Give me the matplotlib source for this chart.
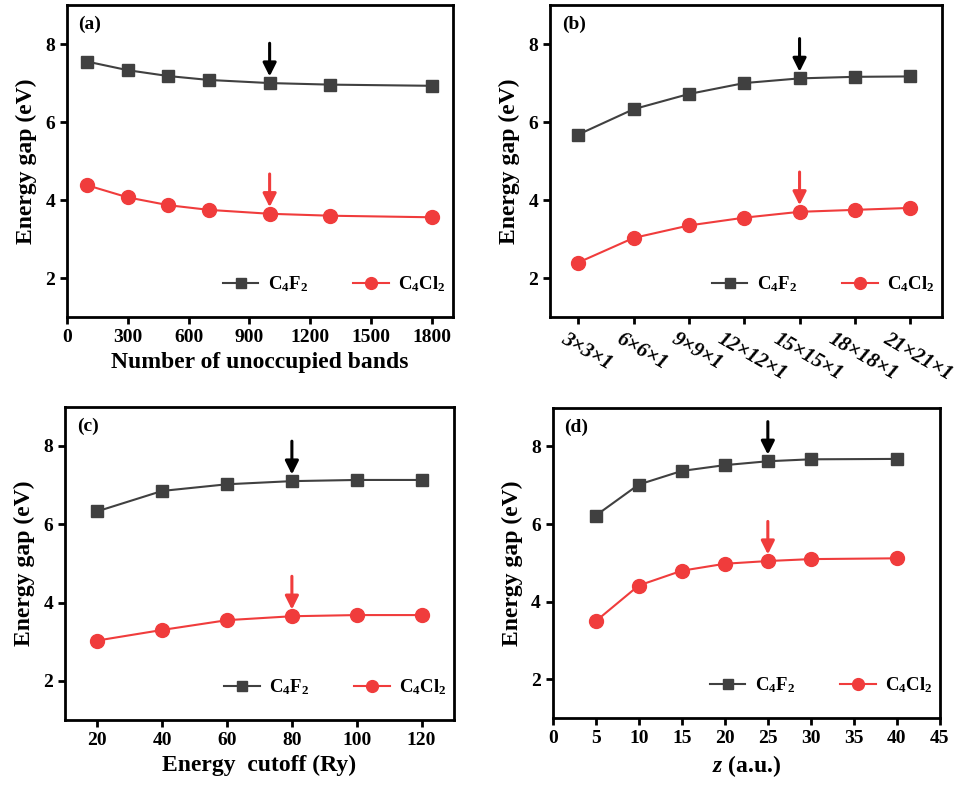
import matplotlib
matplotlib.use('Agg')
import matplotlib.pyplot as plt
import matplotlib.transforms as mtransforms

plt.rcParams['font.family'] = ['Liberation Serif', 'DejaVu Serif']
plt.rcParams['font.weight'] = 'bold'
plt.rcParams['mathtext.fontset'] = 'custom'
plt.rcParams['mathtext.rm'] = 'Liberation Serif:bold'
plt.rcParams['mathtext.bf'] = 'Liberation Serif:bold'
plt.rcParams['mathtext.it'] = 'Liberation Serif:bold:italic'

# données
bands = [100, 300, 500, 700, 1000, 1300, 1800]
bands_f = [7.55, 7.33, 7.18, 7.08, 7.00, 6.96, 6.93]
bands_cl = [4.38, 4.07, 3.87, 3.75, 3.65, 3.60, 3.56]

kgrid = ['3×3×1', '6×6×1', '9×9×1', '12×12×1', '15×15×1', '18×18×1', '21×21×1']
kgrid_f = [5.68, 6.33, 6.72, 7.00, 7.12, 7.16, 7.17]
kgrid_cl = [2.40, 3.03, 3.35, 3.55, 3.70, 3.75, 3.80]

cutoff = [20, 40, 60, 80, 100, 120]
cutoff_f = [6.33, 6.85, 7.02, 7.10, 7.13, 7.13]
cutoff_cl = [3.03, 3.30, 3.55, 3.65, 3.68, 3.68]

vacuum = [5, 10, 15, 20, 25, 30, 40]
vacuum_f = [6.22, 7.02, 7.37, 7.52, 7.62, 7.67, 7.68]
vacuum_cl = [3.50, 4.42, 4.80, 4.98, 5.05, 5.10, 5.12]

# indice du point choisi (flèche)
chosen = [4, 4, 3, 4]

gray = '#404040'
red = '#f03c3c'

fig = plt.figure(figsize=(9.61, 7.87), dpi=100)
positions = [
    [0.0697, 0.597, 0.4017, 0.3966],
    [0.5723, 0.597, 0.4077, 0.3966],
    [0.0676, 0.0851, 0.4048, 0.3981],
    [0.5751, 0.0873, 0.4030, 0.3947],
]
axes = [fig.add_axes(p) for p in positions]

panels = [
    (bands, bands_f, bands_cl, '(a)', 'Number of unoccupied bands'),
    (list(range(len(kgrid))), kgrid_f, kgrid_cl, '(b)', ''),
    (cutoff, cutoff_f, cutoff_cl, '(c)', 'Energy  cutoff (Ry)'),
    (vacuum, vacuum_f, vacuum_cl, '(d)', r'$\mathit{z}$ (a.u.)'),
]

for ax, (x, yf, ycl, tag, xlabel), idx in zip(axes, panels, chosen):
    ax.plot(x, yf, '-s', color=gray, lw=1.5, ms=9, mfc=gray, mec=gray,
            label=r'$\mathrm{C_4F_2}$')
    ax.plot(x, ycl, '-o', color=red, lw=1.5, ms=10, mfc=red, mec=red,
            label=r'$\mathrm{C_4Cl_2}$')
    # flèches
    ax.annotate('', xy=(x[idx], yf[idx] + 0.17), xytext=(x[idx], yf[idx] + 1.02),
                arrowprops=dict(arrowstyle='-|>', color='black', lw=2.2,
                                mutation_scale=20, shrinkA=0, shrinkB=0))
    ax.annotate('', xy=(x[idx], ycl[idx] + 0.17), xytext=(x[idx], ycl[idx] + 1.02),
                arrowprops=dict(arrowstyle='-|>', color=red, lw=2.2,
                                mutation_scale=20, shrinkA=0, shrinkB=0))

    ax.set_ylim(1, 9)
    ax.set_yticks([2, 4, 6, 8])
    ax.set_ylabel('Energy gap (eV)', fontsize=17, fontweight='bold', labelpad=6)
    ax.set_xlabel(xlabel, fontsize=17, fontweight='bold', labelpad=4)
    ax.text(0.03, 0.965, tag, transform=ax.transAxes, fontsize=14,
            fontweight='bold', va='top', ha='left')
    ax.legend(loc='lower right', ncol=2, frameon=False, fontsize=13.5,
              handlelength=1.9, handletextpad=0.5, columnspacing=2.4,
              markerscale=0.85, bbox_to_anchor=(1.025, 0.02))
    for s in ax.spines.values():
        s.set_linewidth(2)
    ax.tick_params(axis='both', direction='out', width=2, length=5,
                   labelsize=14, top=False, right=False)

axes[0].set_xlim(0, 1905)
axes[0].set_xticks([0, 300, 600, 900, 1200, 1500, 1800])

axes[1].set_xlim(-0.51, 6.57)
axes[1].set_xticks(range(len(kgrid)))
axes[1].set_xticklabels(kgrid, rotation=-30, ha='center', fontstyle='italic',
                        fontsize=15)
offset = mtransforms.ScaledTranslation(8 / 100, 0, fig.dpi_scale_trans)
for lab in axes[1].get_xticklabels():
    lab.set_transform(lab.get_transform() + offset)

axes[2].set_xlim(10, 130)
axes[2].set_xticks(cutoff)

axes[3].set_xlim(0, 45)
axes[3].set_xticks(range(0, 50, 5))

fig.savefig('out.png', dpi=100, facecolor='white')
